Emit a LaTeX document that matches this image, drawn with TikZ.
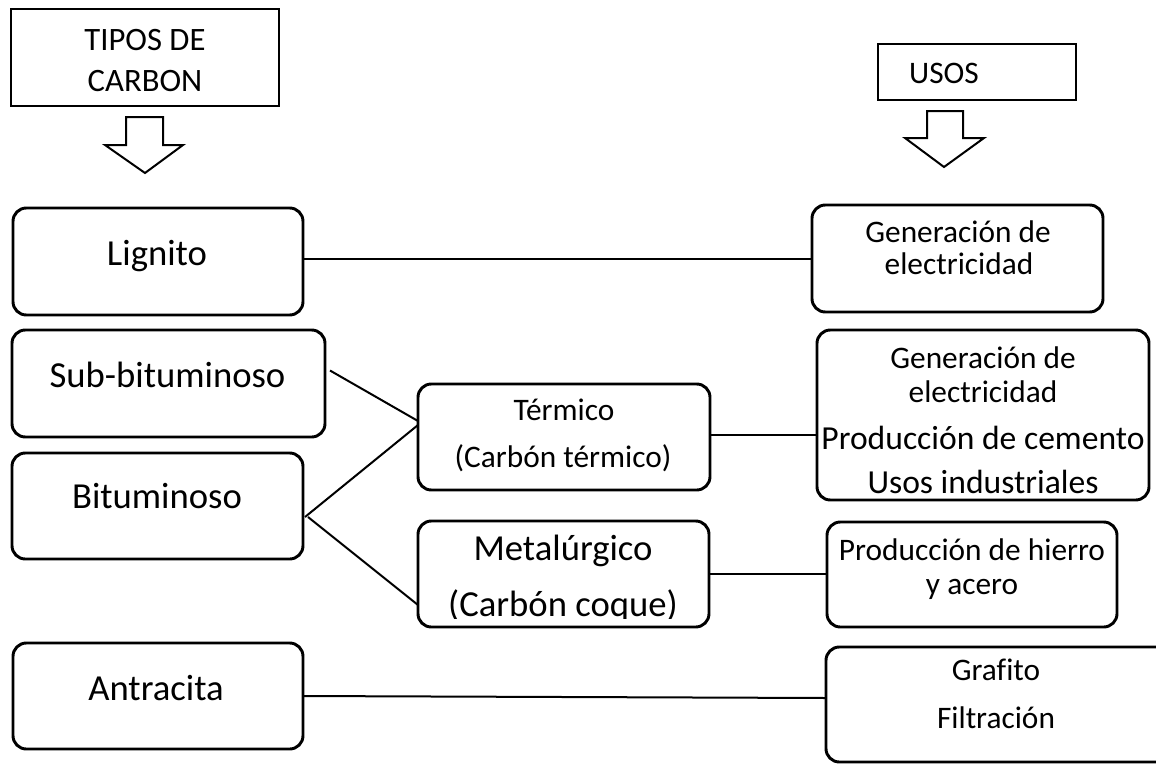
\documentclass[tikz,border=0pt]{standalone}
\usepackage{fontspec}
\setmainfont{Carlito}[Ligatures=NoCommon]
\begin{document}
\begin{tikzpicture}[x=0.75pt,y=-0.75pt,
  box/.style={draw, line width=2.2pt, rounded corners=10pt, inner sep=0pt, outer sep=0pt, anchor=north west},
  headbox/.style={draw, line width=1.8pt, inner sep=0pt, outer sep=0pt, anchor=north west},
  bigtxt/.style={font=\fontsize{27.5}{33}\selectfont, inner sep=0pt, anchor=base},
  smalltxt/.style={font=\fontsize{23.5}{28}\selectfont, inner sep=0pt, anchor=base},
  widetxt/.style={font=\fontsize{25.2}{30}\selectfont, inner sep=0pt, anchor=base},
  link/.style={line width=1.5pt},
  blockarrow/.style={draw, line width=1.5pt, fill=white, line join=miter}]
\clip (0,0) rectangle (1156,764);
\fill[white] (0,0) rectangle (1156,764);

% header boxes
\node[headbox, minimum width=201pt, minimum height=72.75pt] (tipos) at (11,9) {};
\node[smalltxt, font=\fontsize{24.5}{29}\selectfont] (tipos-a) at (145,50) {TIPOS DE};
\node[smalltxt, font=\fontsize{24.5}{29}\selectfont] (tipos-b) at (145,91) {CARBON};
\node[headbox, minimum width=148.5pt, minimum height=42pt] (usos) at (878,44) {};
\node[smalltxt] (usos-t) at (944,83) {USOS};

% hollow down arrows under the headers
\draw[blockarrow] (126,117) -- (163,117) -- (163,145) -- (183,145) -- (145,173)
  -- (105,145) -- (126,145) -- cycle;
\draw[blockarrow] (927,111) -- (963,111) -- (963,138) -- (984,138) -- (944,167)
  -- (905,138) -- (927,138) -- cycle;

% coal types
\node[box, minimum width=217.5pt, minimum height=80.25pt] (lig) at (13,208) {};
\node[bigtxt] (lig-t) at (157,265) {Lignito};
\node[box, minimum width=234.75pt, minimum height=80.25pt] (sub) at (12,330) {};
\node[bigtxt] (sub-t) at (167.5,387) {Sub-bituminoso};
\node[box, minimum width=218.25pt, minimum height=79.5pt] (bit) at (12,453) {};
\node[bigtxt] (bit-t) at (157,508) {Bituminoso};
\node[box, minimum width=217.5pt, minimum height=79.5pt] (ant) at (13,643) {};
\node[bigtxt] (ant-t) at (156,700) {Antracita};

% intermediate classes
\node[box, minimum width=219pt, minimum height=79.5pt] (term) at (418,384) {};
\node[smalltxt] (term-a) at (564,420) {Térmico};
\node[smalltxt] (term-b) at (563,467) {(Carbón térmico)};
\node[box, minimum width=218.25pt, minimum height=79.5pt] (met) at (418,521) {};
\node[bigtxt] (met-a) at (563,560) {Metalúrgico};
\begin{scope}
  \clip (418,521) rectangle (709,618);
  \node[bigtxt] (met-b) at (563,616) {(Carbón coque)};
\end{scope}

% uses
\node[box, minimum width=218.25pt, minimum height=80.25pt] (gen) at (812,205) {};
\node[smalltxt] (gen-a) at (958,242) {Generación de};
\node[smalltxt] (gen-b) at (959,274) {electricidad};
\node[box, minimum width=249pt, minimum height=127.5pt] (ter) at (817,330) {};
\node[smalltxt] (ter-a) at (983,368) {Generación de};
\node[smalltxt] (ter-b) at (983,402) {electricidad};
\node[widetxt] (ter-c) at (983,449) {Producción de cemento};
\node[widetxt] (ter-d) at (983,493) {Usos industriales};
\node[box, minimum width=217.5pt, minimum height=78.75pt] (hie) at (827,522) {};
\node[smalltxt] (hie-a) at (972,560) {Producción de hierro};
\node[smalltxt] (hie-b) at (972,594) {y acero};
\node[box, minimum width=265.5pt, minimum height=86.25pt] (gra) at (826,647) {};
\node[smalltxt] (gra-a) at (996,680) {Grafito};
\node[smalltxt] (gra-b) at (996,728) {Filtración};

% connectors
\draw[link] (gen.west -| lig.east) -- (gen.west);
\draw[link] ([shift={(5,-13)}]sub.east) -- ([shift={(0,-16)}]term.west);
\draw[link] ([shift={(2,11)}]bit.east) -- ([shift={(0,-12)}]term.west);
\draw[link] ([shift={(5,11)}]bit.east) -- ([shift={(0,31)}]met.west);
\draw[link] (term.east) ++(0,-2) coordinate (tr) (tr) -- (tr -| ter.west);
\draw[link] (met.east) -- (met.east -| hie.west);
\draw[link] (ant.east) -- ([shift={(0,-6.5)}]gra.west);
\end{tikzpicture}
\end{document}
